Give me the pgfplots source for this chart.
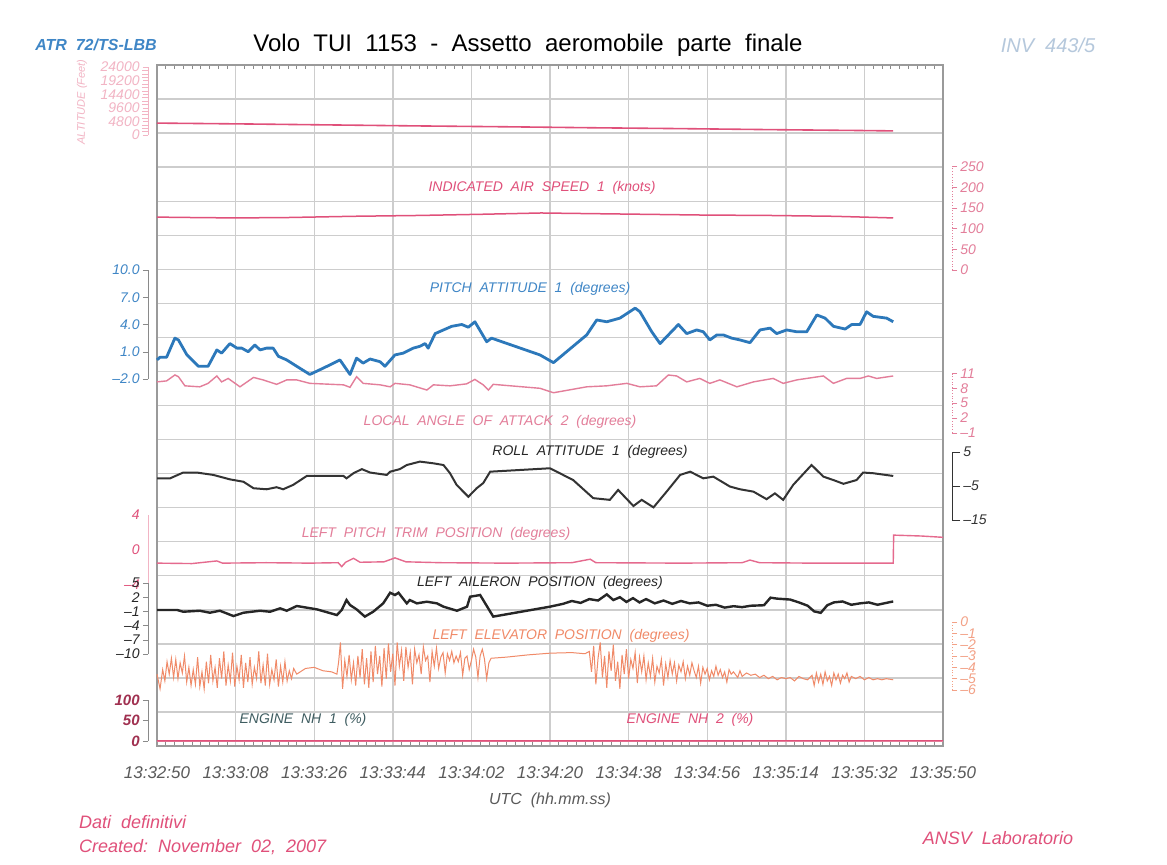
\documentclass[border=0pt]{standalone}
\usepackage{fontspec}
\setmainfont{Liberation Sans}
\usepackage{pgfplots}
\pgfplotsset{compat=1.18}
\definecolor{gridc}{HTML}{CDCDCD}
\definecolor{framec}{HTML}{9A9A9A}
\definecolor{pblue}{HTML}{2C78BA}
\definecolor{lblue}{HTML}{3F86C6}
\definecolor{pinkc}{HTML}{E0507A}
\definecolor{lpink}{HTML}{E37E9A}
\definecolor{fpink}{HTML}{F2B4C4}
\definecolor{elev}{HTML}{F08A68}
\definecolor{maroonc}{HTML}{A03050}
\definecolor{slate}{HTML}{3E5C60}
\definecolor{ticktext}{HTML}{5A5A5A}
\definecolor{invc}{HTML}{B5C8DC}
\definecolor{axgray}{HTML}{8A8A8A}
\newcommand\tl{\fontsize{7}{8}\selectfont\itshape}
\newcommand\st{\fontsize{7}{8}\selectfont\itshape}
\pgfplotsset{
  ovbase/.style={scale only axis, width=397.5pt, anchor=south west, clip=false,
    axis x line=none, tick align=outside, major tick length=2.5pt, scaled y ticks=false,
    yticklabel style={font=\tl, inner sep=1.5pt}},
  lov/.style={ovbase, xmin=-2.061, xmax=180, axis y line*=left},
  rov/.style={ovbase, xmin=0, xmax=182.06, axis y line*=right},
  col/.style={y axis line style={#1}, ytick style={#1}, yticklabel style={text=#1}},
}
\begin{document}
\begin{tikzpicture}
\useasboundingbox (0,0) rectangle (583.5pt,432pt);
\fill[white] (0,0) rectangle (583.5pt,432pt);
% main frame and grid
\begin{axis}[scale only axis, at={(78.5pt,59pt)}, anchor=south west,
  width=393pt, height=340.5pt, xmin=0, xmax=180, ymin=0, ymax=20,
  ytick={0,...,20}, yticklabels={}, yticklabel style={text opacity=0}, ytick style={draw=none},
  xtick={0,18,...,180},
  xticklabels={13:32:50,13:33:08,13:33:26,13:33:44,13:34:02,13:34:20,13:34:38,13:34:56,13:35:14,13:35:32,13:35:50},
  xticklabel style={font=\fontsize{8.5}{10}\selectfont\itshape, text=ticktext, yshift=-7pt},
  xmajorgrids, ymajorgrids, grid style={gridc, line width=0.7pt},
  axis line style={framec, line width=0.6pt},
  major x tick style={draw=none},
  minor x tick num=8, minor tick length=2pt, minor x tick style={axgray, line width=0.3pt}]
\end{axis}
% ALTITUDE
\begin{axis}[lov, at={(74pt,364.5pt)}, height=34pt, ymin=0, ymax=24000,
  ytick={0,4800,9600,14400,19200,24000}, yticklabels={0,4800,9600,14400,19200,24000},
  minor y tick num=3, col=fpink]
\addplot[pinkc, line width=0.8pt] coordinates {(0,4200)(20,3900)(40,3550)(60,3200)(80,2900)(100,2550)(120,2250)(140,1900)(160,1600)(168.6,1450)};
\end{axis}
% IAS
\begin{axis}[rov, at={(78.5pt,297pt)}, height=51.65pt, ymin=0, ymax=250,
  ytick={0,50,100,150,200,250}, yticklabels={0,50,100,150,200,250},
  col=lpink, y axis line style={densely dotted}]
\addplot[pinkc, line width=0.75pt] coordinates {(0,128)(8,127)(18,126)(30,127)(45,130)(60,132)(75,135)(88,138)(95,137)(110,135)(125,133)(140,132)(155,130)(168.6,126)};
\end{axis}
% PITCH
\begin{axis}[lov, at={(74pt,242.5pt)}, height=54.5pt, ymin=-2, ymax=10,
  ytick={-2,1,4,7,10}, yticklabels={--2.0,1.0,4.0,7.0,10.0}, col=lblue,
  y axis line style={axgray}, ytick style={axgray}]
\addplot[pblue, line width=1.4pt, line join=round] coordinates {(0,0.1)(0.7,0.4)(2.2,0.4)(4.1,2.5)(4.9,2.3)(6.8,0.7)(9.5,-0.6)(11.7,-0.6)(13.7,1.2)(14.8,0.85)(16.7,1.9)(18.3,1.4)(19.4,1.4)(20.9,1.0)(22.4,1.75)(23.6,1.2)(25.1,1.4)(26.6,1.4)(27.8,0.5)(29.7,0.1)(32.0,-0.6)(35.0,-1.5)(38.1,-0.8)(41.9,0.1)(44.2,-1.5)(45.7,0.3)(47.2,-0.25)(48.8,0.2)(51.1,-0.1)(52.2,-0.6)(54.5,0.65)(56.4,0.85)(58.7,1.4)(60.2,1.6)(61.4,1.9)(62.1,1.4)(63.7,3.0)(65.6,3.4)(67.5,3.8)(69.8,4.0)(71.3,3.7)(72.8,4.3)(74.4,3.0)(75.5,2.1)(76.6,2.5)(87.7,0.65)(90.8,-0.2)(98.4,2.85)(100.7,4.5)(103.0,4.3)(106.0,4.7)(109.5,5.8)(110.6,5.4)(113.3,3.2)(115.2,1.9)(117.1,2.85)(119.4,4.0)(121.3,3.0)(123.6,3.4)(125.1,3.2)(126.6,2.3)(128.2,2.85)(129.7,2.85)(131.6,2.5)(133.5,2.3)(135.8,2.0)(138.1,3.4)(140.4,3.6)(141.9,3.0)(144.2,3.4)(146.5,3.2)(148.8,3.2)(151.1,5.05)(153.0,4.7)(154.9,3.8)(157.6,3.5)(159.1,4.0)(161.0,4.0)(162.5,5.4)(164.0,4.9)(167.1,4.7)(168.6,4.3)};
\end{axis}
% AOA
\begin{axis}[rov, at={(78.5pt,215.65pt)}, height=29.6pt, ymin=-1, ymax=11,
  ytick={-1,2,5,8,11}, yticklabels={--1,2,5,8,11}, col=lpink, y axis line style={densely dotted}]
\addplot[lpink, line width=0.7pt] coordinates {(0,9.3)(2.2,9.5)(4.1,10.7)(4.9,10.35)(6.4,8.5)(9.8,8.3)(11.7,9.0)(13.7,10.5)(14.8,9.3)(16.3,10.0)(19.0,8.3)(22.1,10.2)(24.3,9.7)(27.4,8.8)(29.7,9.7)(32.0,9.7)(35.0,9.0)(42.7,8.7)(44.2,8.2)(45.7,10.35)(47.2,9.0)(51.1,8.7)(53.4,8.3)(54.5,9.0)(57.9,8.7)(61.8,7.65)(63.3,8.7)(67.1,8.5)(70.9,8.9)(72.8,9.8)(74.7,8.7)(75.9,7.65)(77.0,8.8)(87.7,8.0)(90.8,7.1)(98.4,8.3)(103.0,8.5)(107.6,9.0)(110.6,8.3)(114.4,8.5)(117.1,10.7)(119.0,10.5)(121.3,9.3)(124.3,10.0)(126.6,9.0)(128.9,9.7)(132.8,8.3)(136.6,9.3)(141.1,10.0)(143.4,9.0)(146.5,9.7)(150.3,10.2)(152.6,10.5)(154.9,9.0)(157.9,10.0)(161.0,10.0)(162.9,10.5)(164.8,10.0)(168.6,10.5)};
\end{axis}
% ROLL
\begin{axis}[rov, at={(78.5pt,172pt)}, height=34.15pt, ymin=-15, ymax=5,
  ytick={-15,-5,5}, yticklabels={--15,--5,5}, col=black!80, major tick length=4pt]
\addplot[black!80, line width=1pt] coordinates {(0,-2.8)(3.0,-2.8)(6.0,-1.1)(9.1,-1.1)(12.9,-1.8)(16.7,-3.1)(19.8,-3.8)(22.1,-5.7)(25.1,-6.0)(27.4,-5.4)(28.9,-6.0)(31.2,-4.7)(34.3,-2.1)(36.6,-2.1)(42.7,-2.1)(43.4,-2.8)(45.0,-1.3)(46.9,-0.1)(48.8,-1.1)(52.6,-1.8)(53.4,-0.85)(55.6,-0.1)(57.2,1.1)(60.2,2.1)(63.3,1.6)(65.6,1.1)(67.1,-1.3)(68.6,-4.7)(71.3,-8.2)(73.2,-5.7)(74.7,-4.2)(76.3,-0.85)(90.0,0.15)(95.3,-3.3)(99.9,-8.6)(103.7,-9.1)(105.6,-6.2)(109.1,-10.9)(111.0,-9.1)(113.7,-11.3)(116.7,-6.7)(119.8,-1.8)(122.1,-0.85)(125.1,-2.8)(127.4,-2.3)(131.2,-5.2)(133.5,-6.0)(136.6,-6.7)(139.6,-8.9)(141.5,-7.2)(143.4,-9.1)(145.7,-4.7)(149.9,1.1)(152.6,-2.3)(154.9,-3.3)(157.2,-4.4)(160.2,-3.3)(161.7,-1.1)(164.0,-1.3)(168.6,-2.1)};
\end{axis}
% PITCH TRIM
\begin{axis}[lov, at={(74pt,139.5pt)}, height=35pt, ymin=-4, ymax=4,
  ytick={-4,0,4}, yticklabels={--4,0,4}, col=pinkc, y axis line style={fpink}, ytick style={draw=none}]
\addplot[pinkc!85, line width=0.7pt] coordinates {(0,-1.5)(8,-1.55)(13.7,-1.25)(15,-1.5)(25,-1.45)(35,-1.5)(41.5,-1.45)(42.3,-1.9)(43.2,-1.4)(45.0,-0.95)(46.5,-1.4)(52,-1.35)(54.5,-0.9)(57,-1.35)(65,-1.45)(80,-1.5)(95,-1.45)(99.2,-1.05)(100.5,-1.45)(120,-1.5)(134,-1.45)(135.8,-1.15)(138,-1.45)(150,-1.5)(168.6,-1.5)(168.7,1.7)(175,1.6)(180,1.45)};
\end{axis}
% AILERON
\begin{axis}[lov, at={(74pt,105pt)}, height=35.5pt, ymin=-10, ymax=5,
  ytick={-10,-7,-4,-1,2,5}, yticklabels={--10,--7,--4,--1,2,5}, col=black!85,
  y axis line style={axgray}, ytick style={axgray}]
\addplot[black!85, line width=1.2pt] coordinates {(0,-0.7)(4.6,-0.7)(6.0,-1.07)(9.8,-0.86)(12.1,-1.28)(14.4,-0.86)(17.5,-1.98)(19.8,-1.28)(23.6,-0.86)(25.9,-1.07)(28.2,-0.35)(29.7,-0.86)(32.0,0.14)(36.6,-0.56)(41.2,-1.77)(42.3,-0.7)(43.4,1.4)(44.2,0.35)(45.7,-0.56)(47.6,-2.1)(49.5,-1.07)(51.8,0.7)(53.4,2.95)(54.5,2.46)(55.3,2.95)(57.2,0.7)(57.9,1.4)(59.5,0.7)(61.8,1.05)(64.1,0.7)(65.6,0.0)(68.7,-0.86)(71.0,0.0)(71.7,2.1)(74.0,2.46)(74.7,1.4)(77.0,-2.1)(90.0,0.0)(93,0.6)(95,1.2)(97,0.8)(99,1.6)(101,1.3)(103,2.6)(104.5,1.4)(106,2.0)(107.5,1.0)(109,1.8)(110.5,0.9)(112,1.6)(114,0.7)(116,1.3)(118,0.6)(120,1.2)(122,0.7)(124,0.9)(126,0.2)(128,0.4)(130,-0.2)(132,0.1)(134,-0.1)(136,0.2)(139,0.3)(140.5,1.9)(142,1.7)(145,1.5)(147,0.9)(149,0.2)(150.5,-1.0)(152,-1.3)(153.5,0.3)(155,0.9)(157,1.1)(159,0.4)(161,0.7)(163,0.9)(165,0.4)(167,0.8)(168.6,1.1)};
\end{axis}
% ELEVATOR
\begin{axis}[rov, at={(78.5pt,87pt)}, height=34pt, ymin=-6, ymax=0,
  ytick={-6,-5,-4,-3,-2,-1,0}, yticklabels={--6,--5,--4,--3,--2,--1,0}, col=elev!80, y axis line style={densely dotted}]
\addplot[elev, line width=0.5pt] coordinates {(0,-4.6)(0.7,-5.9)(1.3,-4.2)(1.8,-5.2)(2.3,-3.5)(2.8,-4.6)(3.3,-3.2)(3.8,-4.9)(4.3,-3.3)(4.8,-5.0)(5.3,-3.6)(5.8,-4.5)(6.3,-3.0)(6.8,-5.3)(7.3,-4.0)(7.8,-5.6)(8.3,-4.2)(8.8,-5.5)(9.3,-3.1)(9.8,-5.7)(10.3,-4.4)(10.8,-5.9)(11.3,-3.5)(11.8,-5.4)(12.3,-2.9)(12.8,-5.2)(13.3,-4.0)(13.8,-5.8)(14.3,-3.2)(14.8,-5.0)(15.3,-2.6)(15.8,-5.6)(16.3,-3.8)(16.8,-5.2)(17.3,-2.7)(17.8,-5.7)(18.3,-3.9)(18.8,-5.1)(19.3,-2.9)(19.8,-5.8)(20.3,-3.6)(20.8,-5.3)(21.3,-3.1)(21.8,-5.5)(22.3,-4.0)(22.8,-5.0)(23.3,-2.6)(23.8,-5.4)(24.3,-3.8)(24.8,-5.6)(25.3,-2.8)(25.8,-5.5)(26.3,-4.2)(26.8,-5.1)(27.3,-3.3)(27.8,-5.7)(28.3,-3.9)(28.8,-5.3)(29.3,-3.5)(29.8,-5.2)(30.3,-4.3)(30.8,-5.0)(31.3,-4.1)(32.0,-4.6)(34,-4.1)(36,-4.0)(38,-4.3)(40,-4.4)(41.2,-4.6)(41.6,-3.5)(42.0,-1.8)(42.5,-5.9)(43.0,-3.4)(43.5,-4.8)(44.0,-2.9)(44.5,-5.1)(45.0,-3.6)(45.5,-5.6)(46.0,-3.0)(46.5,-4.9)(47.0,-2.4)(47.5,-5.5)(48.0,-3.2)(48.5,-5.8)(49.0,-2.6)(49.5,-5.3)(50.0,-2.1)(50.5,-4.6)(51.0,-3.0)(51.5,-5.7)(52.0,-2.3)(52.5,-5.0)(53.0,-1.9)(53.5,-4.4)(54.0,-2.8)(54.5,-5.6)(55.0,-1.8)(55.5,-3.9)(56.0,-2.5)(56.5,-5.2)(57.0,-2.2)(57.5,-4.0)(58.0,-2.7)(58.5,-5.5)(59.0,-2.4)(59.5,-3.6)(60.0,-2.9)(60.5,-4.6)(61.0,-2.2)(61.5,-3.4)(62.0,-3.0)(62.5,-5.3)(63.0,-2.6)(63.5,-3.9)(64.0,-2.3)(64.5,-4.1)(65.0,-3.1)(65.5,-2.7)(66.0,-4.5)(66.5,-2.8)(67.0,-3.4)(67.5,-2.6)(68.0,-3.6)(68.5,-3.0)(69.0,-3.5)(69.5,-2.7)(70.0,-4.7)(70.5,-3.2)(71.0,-3.0)(71.5,-4.2)(72.0,-3.4)(72.5,-2.4)(73.0,-3.1)(73.5,-4.9)(74.0,-3.0)(74.5,-2.4)(75.0,-3.3)(75.5,-5.0)(76.0,-3.6)(76.5,-3.2)(80,-3.1)(85,-2.9)(90,-2.75)(95,-2.7)(98,-2.8)(99,-2.6)(99.5,-4.4)(100.0,-2.1)(100.5,-5.5)(101.0,-3.2)(101.5,-1.8)(102.0,-4.9)(102.5,-3.0)(103.0,-5.8)(103.5,-2.6)(104.0,-4.3)(104.5,-2.0)(105.0,-5.2)(105.5,-3.5)(106.0,-5.9)(106.5,-2.9)(107.0,-4.6)(107.5,-2.4)(108.0,-5.0)(108.5,-3.3)(109.0,-4.1)(109.5,-2.7)(110.0,-5.4)(110.5,-3.1)(111.0,-4.4)(111.5,-3.0)(112.0,-5.1)(112.5,-3.6)(113.0,-4.8)(113.5,-3.2)(114.0,-5.3)(114.5,-3.9)(115.0,-4.5)(115.5,-3.3)(116.0,-5.6)(116.5,-3.7)(117.0,-4.9)(117.5,-3.4)(118.0,-4.6)(118.5,-3.6)(119.0,-5.2)(119.5,-3.8)(120.0,-4.4)(120.5,-3.5)(121.0,-5.0)(121.5,-3.9)(122.0,-4.7)(122.5,-3.6)(123.0,-4.3)(123.5,-4.9)(124.0,-3.9)(124.5,-5.4)(125.0,-4.0)(125.5,-4.6)(126.0,-4.1)(126.5,-5.1)(127.0,-4.3)(127.5,-4.8)(128.0,-3.9)(128.5,-4.7)(129.0,-4.2)(129.5,-4.9)(130.0,-4.4)(130.5,-5.3)(131.0,-4.2)(131.5,-4.6)(132.0,-4.4)(133.0,-4.9)(133.5,-4.3)(134.0,-4.8)(135.0,-4.5)(136.0,-4.7)(137,-4.6)(138,-4.9)(139,-4.7)(140,-5.0)(141,-4.8)(142,-5.1)(143,-4.9)(144,-5.0)(145,-4.9)(146,-5.2)(147,-4.8)(148,-5.0)(149,-5.1)(150,-4.7)(150.5,-5.6)(151,-4.5)(151.5,-5.3)(152,-4.6)(152.5,-5.5)(153,-4.4)(153.5,-5.2)(154,-4.8)(154.5,-5.6)(155,-4.5)(155.5,-5.1)(156,-4.6)(156.5,-5.4)(157,-4.7)(157.5,-5.0)(158,-4.5)(158.5,-5.3)(159,-4.8)(160,-5.0)(161,-4.8)(162,-5.1)(163,-4.9)(164,-5.1)(165,-5.0)(166,-5.1)(167,-5.0)(168.6,-5.1)};
\end{axis}
% ENGINE NH
\begin{axis}[lov, at={(74pt,61.5pt)}, height=20.5pt, ymin=0, ymax=100,
  ytick={0,50,100}, yticklabels={0,50,100}, col=maroonc,
  y axis line style={axgray}, ytick style={axgray},
  yticklabel style={font=\fontsize{7.5}{8}\selectfont\itshape\bfseries}]
\addplot[pinkc, line width=0.8pt] coordinates {(0,0.5)(60,0.5)(120,0.5)(180,0.5)};
\addplot[lpink, line width=0.5pt] coordinates {(0,0)(90,0)(180,0)};
\end{axis}
% texts
\node[text=lblue, font=\fontsize{8}{9}\selectfont\itshape\bfseries] at (48pt,409.5pt) {ATR\ \ 72/TS-LBB};
\node[font=\fontsize{12}{14}\selectfont] at (264pt,409.5pt) {Volo\ \ TUI\ \ 1153\ \ -\ \ Assetto\ \ aeromobile\ \ parte\ \ finale};
\node[text=invc, font=\fontsize{10}{11}\selectfont\itshape] at (524pt,409.5pt) {INV\ \ 443/5};
\node[rotate=90, text=fpink, font=\fontsize{5.5}{6}\selectfont\itshape] at (41pt,381pt) {ALTITUDE\ (Feet)};
\node[text=pinkc, font=\st] at (271pt,338pt) {INDICATED\ \ AIR\ \ SPEED\ \ 1\ \ (knots)};
\node[text=lblue, font=\st] at (265pt,287.5pt) {PITCH\ \ ATTITUDE\ \ 1\ \ (degrees)};
\node[text=lpink, font=\st] at (250pt,221pt) {LOCAL\ \ ANGLE\ \ OF\ \ ATTACK\ \ 2\ \ (degrees)};
\node[text=black!85, font=\st] at (295pt,206pt) {ROLL\ \ ATTITUDE\ \ 1\ \ (degrees)};
\node[text=lpink, font=\st] at (218pt,165pt) {LEFT\ \ PITCH\ \ TRIM\ \ POSITION\ \ (degrees)};
\node[text=black!85, font=\st] at (270pt,140.5pt) {LEFT\ \ AILERON\ \ POSITION\ \ (degrees)};
\node[text=elev, font=\st] at (280.5pt,114pt) {LEFT\ \ ELEVATOR\ \ POSITION\ \ (degrees)};
\node[text=slate, font=\st] at (151.5pt,72pt) {ENGINE\ \ NH\ \ 1\ \ (\%)};
\node[text=pinkc, font=\st] at (345pt,72pt) {ENGINE\ \ NH\ \ 2\ \ (\%)};
\node[text=ticktext, font=\fontsize{8}{9}\selectfont\itshape] at (275pt,32pt) {UTC\ \ (hh.mm.ss)};
\node[anchor=west, text=pinkc, font=\fontsize{9}{10}\selectfont\itshape] at (36pt,21pt) {Dati\ \ definitivi};
\node[anchor=west, text=pinkc, font=\fontsize{9}{10}\selectfont\itshape] at (36pt,8.5pt) {Created:\ \ November\ \ 02,\ \ 2007};
\node[text=pinkc, font=\fontsize{9}{10}\selectfont\itshape] at (499pt,13pt) {ANSV\ \ Laboratorio};
\end{tikzpicture}
\end{document}
